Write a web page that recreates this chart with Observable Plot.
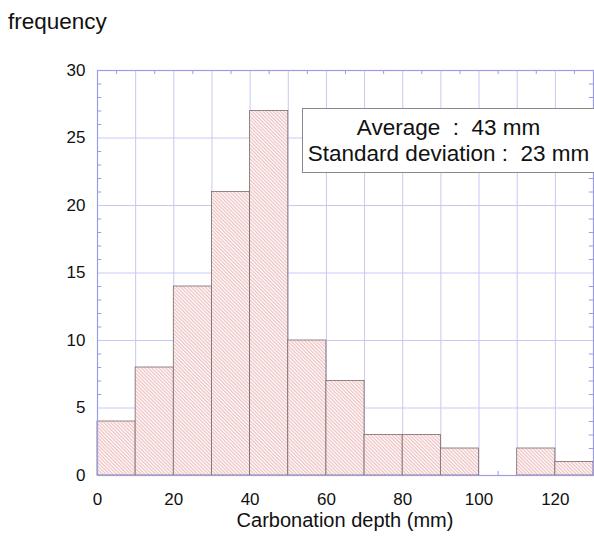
<!DOCTYPE html>
<html>
<head>
<meta charset="utf-8">
<script src="https://cdn.jsdelivr.net/npm/d3@7"></script>
<script src="https://cdn.jsdelivr.net/npm/@observablehq/plot@0.6"></script>
<style>
  html, body { margin: 0; padding: 0; background: #fff; }
  #wrap { position: relative; width: 594px; height: 544px; font-family: "Liberation Sans", Arial, sans-serif; color: #111; }
  #ytitle { position: absolute; left: 8px; top: 9px; font-size: 22.5px; }
  #xtitle { position: absolute; left: 0; width: 690px; top: 509px; font-size: 20px; text-align: center; }
  #stats { position: absolute; left: 302px; top: 108px; width: 292px; height: 65px; box-sizing: border-box;
           border: 1px solid #888; border-right: none; background: #fff; font-size: 22.5px; text-align: center; line-height: 26px; padding-top: 6px; }
</style>
</head>
<body>
<div id="wrap">
  <div id="chart"></div>
  <div id="ytitle"></div>
  <div id="xtitle"></div>
  <div id="stats"></div>
</div>
<script>
const binStarts = [0, 10, 20, 30, 40, 50, 60, 70, 80, 90, 100, 110, 120];
const binWidth = 10;
const frequencies = [4, 8, 14, 21, 27, 10, 7, 3, 3, 2, 0, 2, 1];
const xTicks = [0, 20, 40, 60, 80, 100, 120];
const yTicks = [0, 5, 10, 15, 20, 25, 30];
const xGrid = [10, 20, 30, 40, 50, 60, 70, 80, 90, 100, 110, 120];
const yGrid = [5, 10, 15, 20, 25];
const xMinor = [5, 15, 25, 35, 45, 55, 65, 75, 85, 95, 105, 115, 125];
const yMinor = d3.range(1, 30).filter(v => v % 5 !== 0);
const xLabel = "Carbonation depth (mm)";
const yLabel = "frequency";
const statLines = ["Average\u00a0 : \u00a043 mm", "Standard deviation : \u00a023 mm"];

const bins = binStarts.map((s, i) => ({x1: s, x2: s + binWidth, y: frequencies[i]})).filter(d => d.y > 0);

const gridColor = "#c8c8f4";
const tickColor = "#9c9ce8";

const plot = Plot.plot({
  width: 594,
  height: 544,
  marginLeft: 97,
  marginRight: 1,
  marginTop: 70,
  marginBottom: 69,
  style: {fontFamily: "'Liberation Sans', Arial, sans-serif", color: "#111", background: "#fff"},
  x: {domain: [0, 130]},
  y: {domain: [0, 30]},
  marks: [
    Plot.ruleX(xGrid, {stroke: gridColor, strokeWidth: 1}),
    Plot.ruleY(yGrid, {stroke: gridColor, strokeWidth: 1}),
    Plot.ruleX(xMinor, {y1: 0, y2: 0.3, stroke: tickColor}),
    Plot.ruleX(xMinor, {y1: 29.7, y2: 30, stroke: tickColor}),
    Plot.ruleY(yMinor, {x1: 0, x2: 1.1, stroke: tickColor}),
    Plot.ruleY(yMinor, {x1: 128.9, x2: 130, stroke: tickColor}),
    Plot.rectY(bins, {x1: "x1", x2: "x2", y: "y", fill: "url(#hatch)", stroke: "#7a6a6a", strokeWidth: 0.8}),
    Plot.frame({stroke: tickColor, strokeWidth: 1.2}),
    Plot.axisX({ticks: xTicks, tickSize: 0, tickPadding: 17, fontSize: 17, label: null, fill: "#111"}),
    Plot.axisY({ticks: yTicks, tickSize: 0, tickPadding: 12, fontSize: 17, label: null, fill: "#111"})
  ]
});

// hatch pattern definition
const svg = d3.select(plot);
const defs = svg.insert("defs", ":first-child");
const pat = defs.append("pattern")
  .attr("id", "hatch").attr("patternUnits", "userSpaceOnUse")
  .attr("width", 2.5).attr("height", 2.5)
  .attr("patternTransform", "rotate(45)");
pat.append("rect").attr("width", 2.5).attr("height", 2.5).attr("fill", "#fcf0f0");
pat.append("line").attr("x1", 0).attr("y1", 0).attr("x2", 2.5).attr("y2", 0)
  .attr("stroke", "#e6abab").attr("stroke-width", 1.2);

document.getElementById("chart").appendChild(plot);
document.getElementById("ytitle").textContent = yLabel;
document.getElementById("xtitle").textContent = xLabel;
document.getElementById("stats").innerHTML = statLines.map(s => `<div>${s}</div>`).join("");
</script>
</body>
</html>
